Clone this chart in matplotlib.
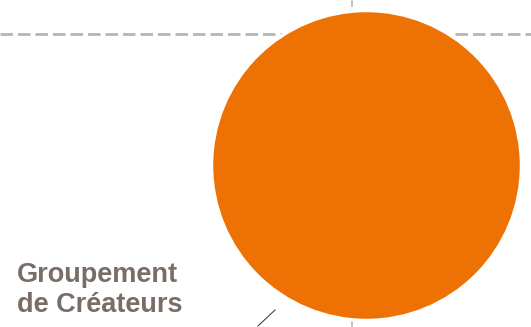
import matplotlib
matplotlib.use("Agg")
import matplotlib.pyplot as plt
from matplotlib.patches import Circle

# Data
categories = ["Groupement\nde Créateurs"]
bubble_x = [366.5]
bubble_y = [165.5]
bubble_r = [155.0]
bubble_colors = ["#EE7203"]
ref_y = [34]
ref_x = [352]
label_x = [17]
label_y = [262]
leader = [((258, 326), (275, 310))]

W, H = 531, 327
fig = plt.figure(figsize=(W / 100, H / 100), dpi=100)
ax = fig.add_axes([0, 0, 1, 1])
ax.set_xlim(0, W)
ax.set_ylim(H, 0)
ax.axis("off")

for y in ref_y:
    ax.axhline(y, color="#b5b5b5", lw=2.0, dashes=(4.5, 1.8), zorder=1)
for x in ref_x:
    ax.axvline(x, color="#b5b5b5", lw=1.2, dashes=(4, 4), zorder=1)

for cx, cy, r, c in zip(bubble_x, bubble_y, bubble_r, bubble_colors):
    ax.add_patch(Circle((cx, cy), r, facecolor=c, edgecolor="white", lw=2.5, zorder=2))

for lab, lx, ly, (p0, p1) in zip(categories, label_x, label_y, leader):
    ax.text(lx, ly, lab, fontsize=19.5, fontweight="bold", color="#786d67",
            family=["Liberation Sans", "DejaVu Sans"], va="top", ha="left",
            linespacing=1.18, zorder=3)
    ax.plot([p0[0], p1[0]], [p0[1], p1[1]], color="#444444", lw=0.8, zorder=3)

fig.savefig("out.png", dpi=100)
